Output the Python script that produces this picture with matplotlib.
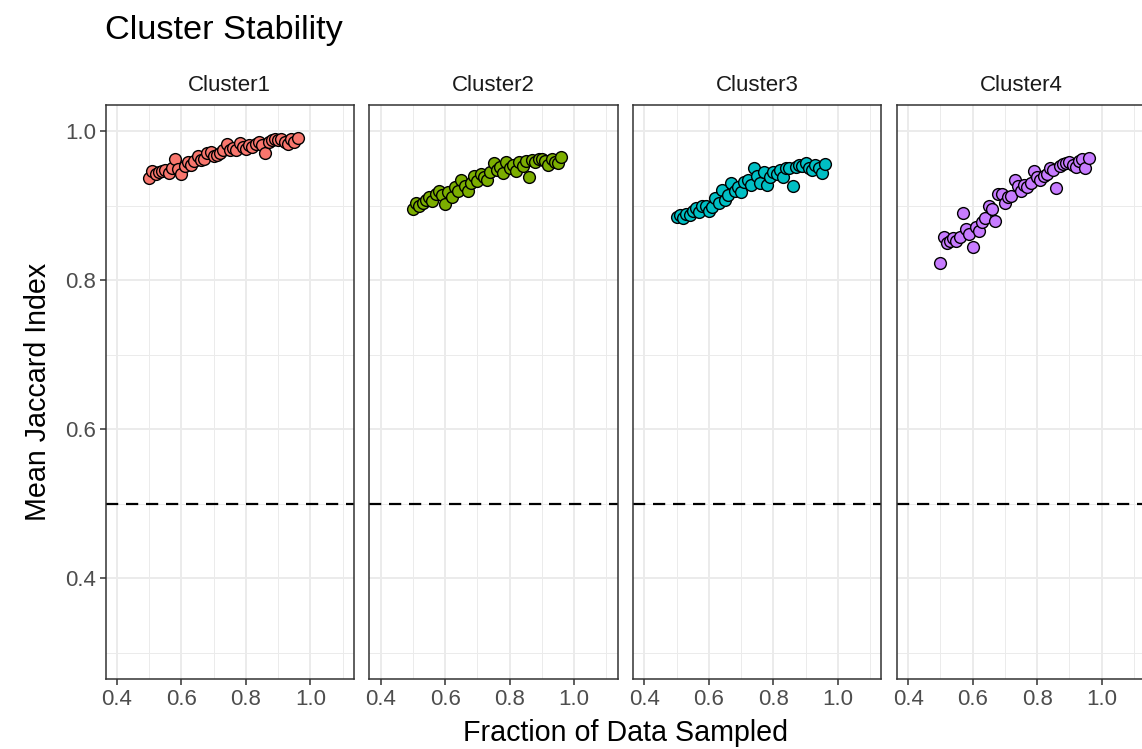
import numpy as np
import matplotlib
matplotlib.use("Agg")
import matplotlib.pyplot as plt
from matplotlib.ticker import MultipleLocator

plt.rcParams["font.family"] = ["Liberation Sans", "DejaVu Sans"]

# fraction of data sampled (same grid for every cluster)
frac = [0.50, 0.51, 0.52, 0.53, 0.54, 0.55, 0.56, 0.57, 0.58, 0.59,
        0.60, 0.61, 0.62, 0.63, 0.64, 0.65, 0.66, 0.67, 0.68, 0.69,
        0.70, 0.71, 0.72, 0.73, 0.74, 0.75, 0.76, 0.77, 0.78, 0.79,
        0.80, 0.81, 0.82, 0.83, 0.84, 0.85, 0.86, 0.87, 0.88, 0.89,
        0.90, 0.91, 0.92, 0.93, 0.94, 0.95, 0.96]

cluster1 = [0.937, 0.947, 0.943, 0.945, 0.946, 0.948, 0.944, 0.950, 0.963, 0.949,
            0.943, 0.953, 0.958, 0.955, 0.960, 0.966, 0.961, 0.963, 0.970, 0.972,
            0.966, 0.968, 0.971, 0.975, 0.983, 0.975, 0.977, 0.974, 0.984, 0.978,
            0.976, 0.982, 0.979, 0.983, 0.986, 0.981, 0.970, 0.986, 0.988, 0.990,
            0.988, 0.989, 0.985, 0.983, 0.989, 0.985, 0.991]

cluster2 = [0.895, 0.903, 0.900, 0.904, 0.908, 0.912, 0.906, 0.916, 0.920, 0.914,
            0.902, 0.918, 0.912, 0.925, 0.920, 0.935, 0.927, 0.919, 0.930, 0.940,
            0.933, 0.942, 0.938, 0.935, 0.945, 0.957, 0.948, 0.952, 0.944, 0.958,
            0.950, 0.955, 0.947, 0.958, 0.953, 0.960, 0.938, 0.961, 0.958, 0.962,
            0.963, 0.960, 0.955, 0.962, 0.958, 0.957, 0.965]

cluster3 = [0.885, 0.887, 0.884, 0.889, 0.887, 0.893, 0.897, 0.892, 0.899, 0.900,
            0.893, 0.898, 0.910, 0.903, 0.921, 0.908, 0.914, 0.930, 0.920, 0.925,
            0.918, 0.932, 0.935, 0.928, 0.950, 0.940, 0.930, 0.945, 0.928, 0.938,
            0.945, 0.942, 0.948, 0.938, 0.951, 0.950, 0.927, 0.952, 0.955, 0.953,
            0.957, 0.950, 0.948, 0.954, 0.951, 0.944, 0.956]

cluster4 = [0.823, 0.858, 0.850, 0.852, 0.856, 0.852, 0.858, 0.890, 0.868, 0.862,
            0.845, 0.872, 0.866, 0.878, 0.884, 0.900, 0.896, 0.880, 0.915, 0.916,
            0.903, 0.912, 0.913, 0.935, 0.926, 0.920, 0.928, 0.925, 0.930, 0.946,
            0.938, 0.934, 0.940, 0.943, 0.950, 0.948, 0.923, 0.953, 0.956, 0.957,
            0.958, 0.955, 0.952, 0.960, 0.963, 0.950, 0.964]

names = ["Cluster1", "Cluster2", "Cluster3", "Cluster4"]
series = [cluster1, cluster2, cluster3, cluster4]
colors = ["#F8766D", "#7CAE00", "#00BFC4", "#C77CFF"]

W, H = 1142, 749
fig = plt.figure(figsize=(W / 100, H / 100), dpi=100)

left0 = 105.7
step = 263.7
pw = 248.3
top_px, bot_px = 105, 679

for i, (name, vals, col) in enumerate(zip(names, series, colors)):
    l = left0 + i * step
    ax = fig.add_axes([l / W, 1 - bot_px / H, pw / W, (bot_px - top_px) / H])
    ax.set_xlim(0.365, 1.135)
    ax.set_ylim(0.265, 1.035)
    ax.xaxis.set_major_locator(MultipleLocator(0.2))
    ax.xaxis.set_minor_locator(MultipleLocator(0.1))
    ax.yaxis.set_major_locator(MultipleLocator(0.2))
    ax.yaxis.set_minor_locator(MultipleLocator(0.1))
    ax.grid(which="major", color="#EBEBEB", linewidth=1.4)
    ax.grid(which="minor", color="#EBEBEB", linewidth=0.7)
    ax.set_axisbelow(True)
    for s in ax.spines.values():
        s.set_color("#333333")
        s.set_linewidth(1.1)
    ax.tick_params(which="major", length=4, width=1.1, color="#333333",
                   labelsize=16, labelcolor="#4D4D4D", pad=3)
    ax.tick_params(which="minor", length=0)
    ax.set_xticks([0.4, 0.6, 0.8, 1.0])
    ax.set_xticklabels(["0.4", "0.6", "0.8", "1.0"])
    if i == 0:
        ax.set_yticks([0.4, 0.6, 0.8, 1.0])
        ax.set_yticklabels(["0.4", "0.6", "0.8", "1.0"])
    else:
        ax.tick_params(axis="y", which="both", left=False, labelleft=False)

    ax.axhline(0.5, color="black", linewidth=1.6, linestyle=(0, (5.5, 3.5)), zorder=2)
    ax.scatter(frac, vals, s=72, c=col, edgecolors="black", linewidths=1.0, zorder=3)
    ax.set_title(name, fontsize=16, color="#1A1A1A", pad=10)

right_px = left0 + 3 * step + pw
fig.text(105 / W, 1 - 31 / H, "Cluster Stability", fontsize=24.7, ha="left", va="center")
fig.text((left0 + right_px) / 2 / W, 1 - 733 / H, "Fraction of Data Sampled",
         fontsize=20.6, ha="center", va="center")
fig.text(38 / W, 1 - (top_px + bot_px) / 2 / H, "Mean Jaccard Index", fontsize=20.6,
         ha="center", va="center", rotation=90)

fig.savefig("out.png", dpi=100)
